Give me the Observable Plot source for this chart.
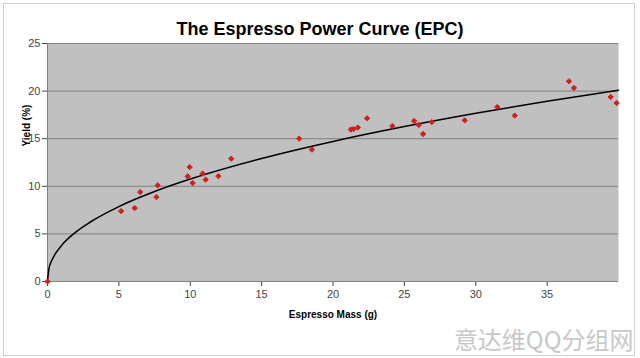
<!DOCTYPE html>
<html><head><meta charset="utf-8">
<script src="https://cdn.jsdelivr.net/npm/d3@7"></script>
<script src="https://cdn.jsdelivr.net/npm/@observablehq/plot@0.6"></script>
<style>
body{margin:0;background:#fff;}
#wrap{position:relative;width:640px;height:358px;}
#border{position:absolute;left:3px;top:3px;width:632px;height:353px;border:1px solid #cfcfcf;box-sizing:border-box;pointer-events:none}
</style></head><body><div id="wrap"><div id="border"></div></div>
<script>
const titleText = "The Espresso Power Curve (EPC)";
const xLabel = "Espresso Mass (g)";
const yLabel = "Yield (%)";
const watermark = "意达维QQ分组网";

// measured shots
const massG = [0, 5.16, 6.11, 6.49, 7.63, 7.72, 9.82, 9.96, 10.17, 10.87, 11.08, 11.97, 12.87,
  17.63, 18.52, 21.25, 21.44, 21.74, 22.39, 24.16, 25.68, 26.01, 26.31, 26.92,
  29.23, 31.51, 32.73, 36.53, 36.88, 39.45, 39.87];
const yieldPct = [0, 7.39, 7.71, 9.39, 8.87, 10.10, 11.04, 12.02, 10.34, 11.33, 10.70, 11.07, 12.90,
  15.01, 13.85, 15.96, 16.02, 16.17, 17.14, 16.33, 16.86, 16.44, 15.49, 16.75,
  16.93, 18.33, 17.43, 21.03, 20.33, 19.38, 18.75];

// power-curve trendline
const curveMass = [0, 0.1, 0.25, 0.5, 1, 2, 3, 5, 7.5, 10, 15, 20, 25, 30, 35, 40];
const curveYield = [0, 1.35, 2.04, 2.79, 3.81, 5.21, 6.25, 7.87, 9.45, 10.76, 12.92, 14.71, 16.27, 17.67, 18.94, 20.1];

const xTicks = [0, 5, 10, 15, 20, 25, 30, 35];
const yTicks = [0, 5, 10, 15, 20, 25];

const points = massG.map((m, i) => ({mass: m, yield: yieldPct[i]}));
const curve = curveMass.map((m, i) => ({mass: m, yield: curveYield[i]}));

const chart = Plot.plot({
  width: 640,
  height: 358,
  marginLeft: 47,
  marginRight: 22,
  marginTop: 43,
  marginBottom: 77,
  style: {fontFamily: "'Liberation Sans', Arial, sans-serif", fontSize: "11px", color: "#444", background: "transparent"},
  x: {domain: [0, 40], ticks: xTicks, tickSize: 5, tickPadding: 4, label: null},
  y: {domain: [0, 25], ticks: yTicks, tickSize: 5, tickPadding: 2, label: null},
  marks: [
    Plot.frame({fill: "#c0c0c0", stroke: null}),
    Plot.ruleY(yTicks.filter(d => d > 0), {stroke: "#808080", strokeWidth: 1}),
    Plot.ruleX([0], {stroke: "#808080"}),
    Plot.ruleY([0], {stroke: "#808080"}),
    Plot.line(curve, {x: "mass", y: "yield", stroke: "#000", strokeWidth: 1.5, curve: "monotone-x"}),
    Plot.dot(points, {x: "mass", y: "yield", symbol: "diamond2", fill: "#d01f1f", stroke: "#d01f1f", r: 2.4, strokeWidth: 1}),
    Plot.text([titleText], {frameAnchor: "top", dx: -13, dy: -21, fontSize: 18, fontWeight: "bold", fill: "#000"}),
    Plot.text([yLabel], {frameAnchor: "left", dx: -21, dy: -16, rotate: -90, fontSize: 10, fontWeight: "bold", fill: "#000"}),
    Plot.text([xLabel], {frameAnchor: "bottom", dy: 36, fontSize: 10, fontWeight: "bold", fill: "#000"}),
    Plot.text([watermark], {frameAnchor: "bottom-right", dx: 15, dy: 60, textAnchor: "end", lineAnchor: "middle", fontSize: 24, fill: "#c8c8c8", fontFamily: "'Noto Sans CJK SC', sans-serif"})
  ]
});
document.getElementById("wrap").appendChild(chart);
chart.style.position = "absolute";
chart.style.left = "0";
chart.style.top = "0";
</script>
</body></html>
